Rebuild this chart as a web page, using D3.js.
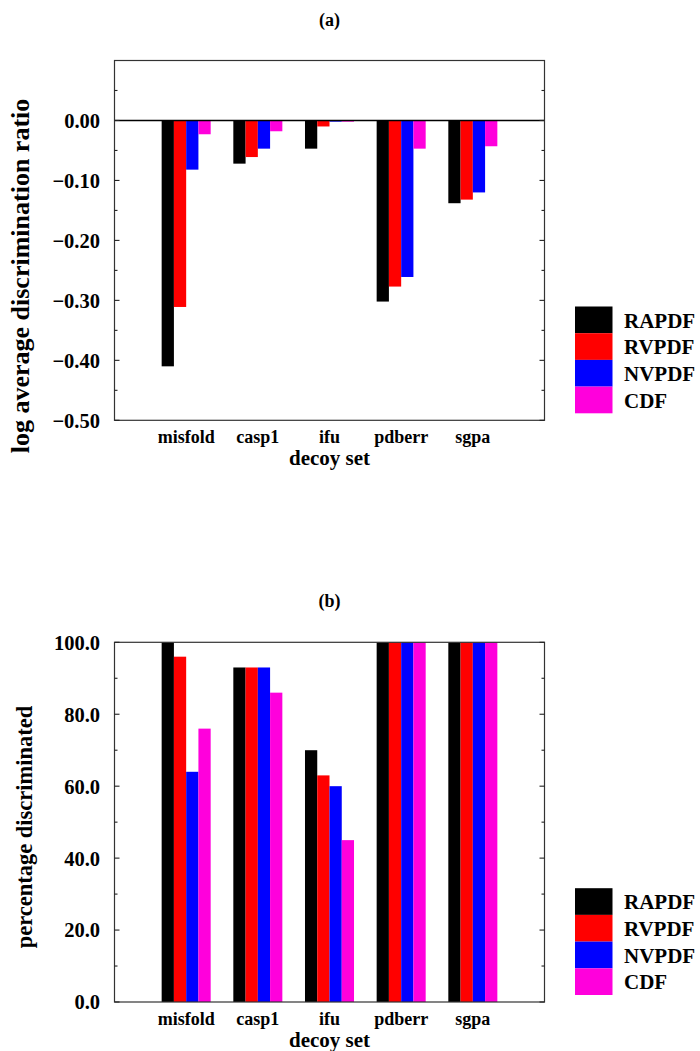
<!DOCTYPE html>
<html>
<head>
<meta charset="utf-8">
<script src="https://cdn.jsdelivr.net/npm/d3@7"></script>
<style>
  html, body { margin: 0; padding: 0; background: #fff; }
  svg { display: block; }
  text { font-family: "Liberation Serif", "Times New Roman", serif; font-weight: bold; fill: #000; }
</style>
</head>
<body>
<script>
// Decoy sets and scoring functions
const categories = ["misfold", "casp1", "ifu", "pdberr", "sgpa"];
const methods = ["RAPDF", "RVPDF", "NVPDF", "CDF"];
const colors = ["#000000", "#ff0000", "#0000ff", "#ff00dc"];

// (a) log average discrimination ratio, one array per method
const ratioRAPDF = [-0.410, -0.072, -0.047, -0.302, -0.138];
const ratioRVPDF = [-0.311, -0.061, -0.010, -0.277, -0.132];
const ratioNVPDF = [-0.082, -0.047, -0.002, -0.261, -0.120];
const ratioCDF   = [-0.023, -0.018, -0.002, -0.047, -0.043];

// (b) percentage discriminated, one array per method
const pctRAPDF = [100, 93, 70, 100, 100];
const pctRVPDF = [96, 93, 63, 100, 100];
const pctNVPDF = [64, 93, 60, 100, 100];
const pctCDF   = [76, 86, 45, 100, 100];

// Tick values and labels
const ratioTicks = [0, -0.1, -0.2, -0.3, -0.4, -0.5];
const ratioTickLabels = ["0.00", "\u22120.10", "\u22120.20", "\u22120.30", "\u22120.40", "\u22120.50"];
const ratioMinor = [0.05, -0.05, -0.15, -0.25, -0.35, -0.45];
const pctTicks = [0, 20, 40, 60, 80, 100];
const pctTickLabels = ["0.0", "20.0", "40.0", "60.0", "80.0", "100.0"];
const pctMinor = [10, 30, 50, 70, 90];

const W = 700, H = 1051;
const svg = d3.select("body").append("svg").attr("width", W).attr("height", H);

function drawPanel(cfg) {
  const g = svg.append("g");
  const left = 114.5, right = 544.5;
  const x = d3.scaleLinear().domain([0, categories.length + 1]).range([left, right]);
  const y = d3.scaleLinear().domain(cfg.domain).range([cfg.bottom, cfg.top]);
  const unit = x(1) - x(0);
  const bw = unit * 0.171;

  // bars
  cfg.series.forEach((vals, si) => {
    g.append("g").selectAll("rect").data(vals).join("rect")
      .attr("x", (d, i) => x(i + 1) + (si - 2) * bw)
      .attr("width", bw)
      .attr("y", d => Math.min(y(d), y(0)))
      .attr("height", d => Math.abs(y(d) - y(0)))
      .attr("fill", colors[si]);
  });

  // zero line
  if (cfg.domain[0] < 0) {
    g.append("line").attr("x1", left).attr("x2", right)
      .attr("y1", y(0)).attr("y2", y(0))
      .attr("stroke", "#000").attr("stroke-width", 1.4);
  }

  // frame
  g.append("rect").attr("x", left).attr("y", cfg.top)
    .attr("width", right - left).attr("height", cfg.bottom - cfg.top)
    .attr("fill", "none").attr("stroke", "#333").attr("stroke-width", 1.2);

  // inward ticks on both sides
  const tickG = g.append("g").attr("stroke", "#222").attr("stroke-width", 1.1);
  cfg.ticks.forEach(t => {
    tickG.append("line").attr("x1", left).attr("x2", left + 5).attr("y1", y(t)).attr("y2", y(t));
    tickG.append("line").attr("x1", right - 5).attr("x2", right).attr("y1", y(t)).attr("y2", y(t));
  });
  cfg.minor.forEach(t => {
    tickG.append("line").attr("x1", left).attr("x2", left + 3).attr("y1", y(t)).attr("y2", y(t));
    tickG.append("line").attr("x1", right - 3).attr("x2", right).attr("y1", y(t)).attr("y2", y(t));
  });

  // tick labels
  g.append("g").selectAll("text").data(cfg.ticks).join("text")
    .attr("x", 100).attr("y", d => y(d)).attr("dy", "0.36em")
    .attr("text-anchor", "end").attr("font-size", 20.5)
    .text((d, i) => cfg.tickLabels[i]);

  // category labels
  g.append("g").selectAll("text").data(categories).join("text")
    .attr("x", (d, i) => x(i + 1)).attr("y", cfg.bottom + 22.5)
    .attr("text-anchor", "middle").attr("font-size", 18)
    .text(d => d);

  // axis titles
  g.append("text").attr("x", (left + right) / 2).attr("y", cfg.bottom + 44.5)
    .attr("text-anchor", "middle").attr("font-size", 21).text("decoy set");
  g.append("text")
    .attr("transform", `translate(${cfg.yLabelX},${cfg.yLabelY}) rotate(-90)`)
    .attr("text-anchor", "middle").attr("font-size", cfg.yLabelSize)
    .text(cfg.yLabel);

  // panel letter
  g.append("text").attr("x", (left + right) / 2).attr("y", cfg.letterY)
    .attr("text-anchor", "middle").attr("font-size", 18).text(cfg.letter);

  // legend
  const lg = g.append("g");
  const sq = 26.7, legTop = cfg.bottom - 7 - sq * methods.length;
  methods.forEach((m, i) => {
    lg.append("rect").attr("x", 575).attr("y", legTop + i * sq)
      .attr("width", 37.5).attr("height", sq).attr("fill", colors[i]);
    lg.append("text").attr("x", 624).attr("y", legTop + i * sq + 21)
      .attr("font-size", 21).text(m);
  });
}

drawPanel({
  top: 60.5, bottom: 420.3, domain: [-0.5, 0.1],
  series: [ratioRAPDF, ratioRVPDF, ratioNVPDF, ratioCDF],
  ticks: ratioTicks, tickLabels: ratioTickLabels, minor: ratioMinor,
  yLabel: "log average discrimination ratio", yLabelX: 29, yLabelY: 276, yLabelSize: 26,
  letter: "(a)", letterY: 26
});

drawPanel({
  top: 642.3, bottom: 1002, domain: [0, 100],
  series: [pctRAPDF, pctRVPDF, pctNVPDF, pctCDF],
  ticks: pctTicks, tickLabels: pctTickLabels, minor: pctMinor,
  yLabel: "percentage discriminated", yLabelX: 32, yLabelY: 827, yLabelSize: 22.5,
  letter: "(b)", letterY: 607
});
</script>
</body>
</html>
